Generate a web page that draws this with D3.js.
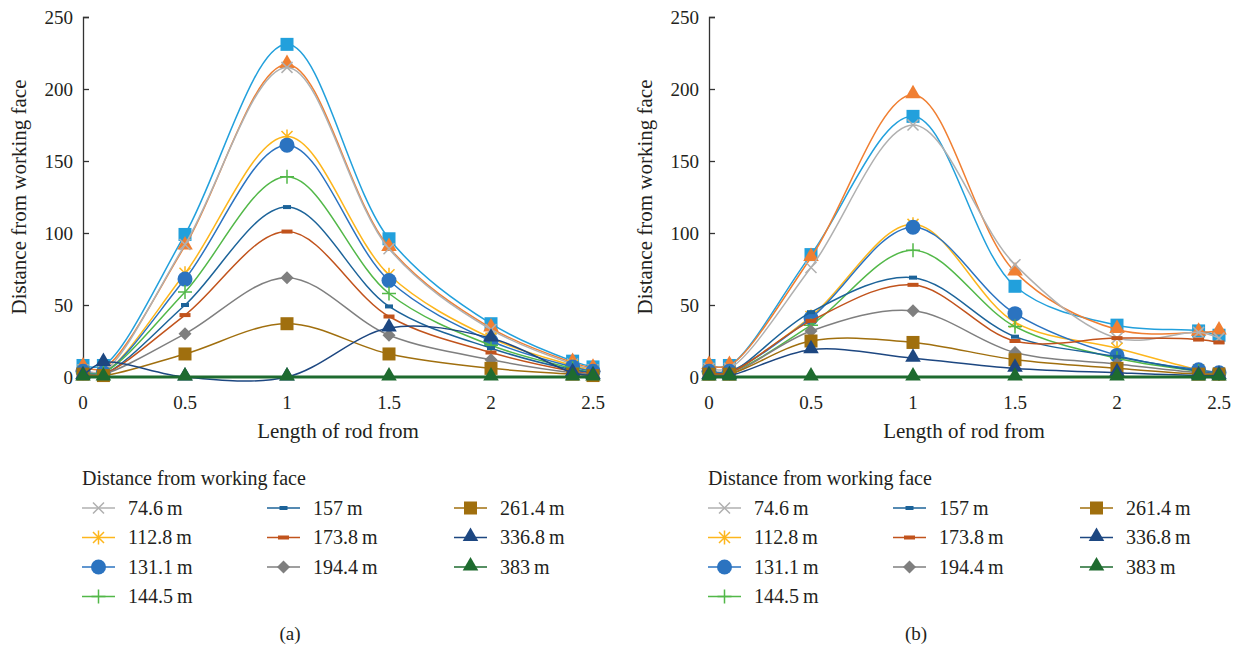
<!DOCTYPE html>
<html>
<head>
<meta charset="utf-8">
<script src="https://cdn.jsdelivr.net/npm/d3@7"></script>
<style>
body { margin: 0; background: #fff; }
</style>
</head>
<body>
<div id="chart"></div>
<script>
// rod positions along the x axis
var rodLengths = [0, 0.1, 0.5, 1, 1.5, 2, 2.4, 2.5];
var xTicks = [0, 0.5, 1, 1.5, 2, 2.5];
var yTicks = [0, 50, 100, 150, 200, 250];

var seriesNames = ["", "", "74.6\u2009m", "112.8\u2009m", "131.1\u2009m", "144.5\u2009m", "157\u2009m", "173.8\u2009m", "194.4\u2009m", "261.4\u2009m", "336.8\u2009m", "383\u2009m"];
var seriesColors = ["#22a0dc", "#f07f32", "#b0b0b0", "#fdb61c", "#2b73c0", "#52b848", "#1c6399", "#c1531c", "#7f7f7f", "#a06f0e", "#1d4781", "#1e6b2f"];
var seriesMarkers = ["square", "triangle", "x", "star", "circle", "plus", "dash", "wdash", "diamond", "square", "triangle", "triangle"];

// panel (a)
var valuesA = [
	[8, 8, 99, 231, 96, 37, 11, 7],
	[7, 6, 91, 217, 90, 34, 10, 6],
	[5, 4, 92, 215, 89, 33, 9, 5],
	[4, 3, 72, 167, 71, 27, 8, 4],
	[4, 3, 68, 161, 67, 25, 7, 4],
	[3, 3, 59, 139, 58, 22, 6, 3],
	[3, 2, 50, 118, 49, 20, 5, 3],
	[2, 2, 43, 101, 42, 17, 4, 2],
	[2, 2, 30, 69, 29, 12, 3, 2],
	[2, 1, 16, 37, 16, 6, 2, 1],
	[1, 10, 0, 0, 34, 27, 3, 1],
	[0, 0, 0, 0, 0, 0, 0, 0]
];
// panel (b)
var valuesB = [
	[8, 8, 85, 181, 63, 36, 32, 29],
	[8, 8, 83, 196, 73, 33, 31, 32],
	[6, 6, 76, 175, 78, 27, 31, 27],
	[4, 4, 42, 106, 38, 20, 5, 3],
	[4, 4, 41, 104, 44, 15, 5, 3],
	[3, 3, 36, 88, 35, 13, 4, 2],
	[3, 3, 45, 69, 28, 14, 4, 2],
	[3, 3, 39, 64, 25, 27, 26, 24],
	[2, 2, 32, 46, 17, 9, 3, 2],
	[2, 2, 25, 24, 12, 6, 2, 2],
	[1, 1, 19, 13, 6, 3, 1, 1],
	[0, 0, 0, 0, 0, 0, 0, 0]
];

// legend layout: which series sits in which column/row
var legendCols = [[2, 3, 4, 5], [6, 7, 8], [9, 10, 11]];

var fontFamily = "'Liberation Serif', 'DejaVu Serif', serif";

var svg = d3.select("#chart")
	.append("svg")
	.attr("width", 1240)
	.attr("height", 650)
	.attr("font-family", fontFamily);

var addText = function(x, y, size, anchor, str) {
	return svg.append("text")
		.attr("x", x)
		.attr("y", y)
		.attr("font-family", fontFamily)
		.attr("font-size", size)
		.attr("fill", "#231f20")
		.attr("text-anchor", anchor)
		.text(str);
}

var drawMarker = function(g, type, color, x, y) {
	if(type == "square") {
		g.append("rect").attr("x", x - 6.5).attr("y", y - 6.5).attr("width", 13).attr("height", 13).attr("fill", color);
	}
	else if(type == "triangle") {
		g.append("path").attr("d", d3.symbol(d3.symbolTriangle, 105)()).attr("transform", "translate(" + x + "," + (y - 1) + ")").attr("fill", color);
	}
	else if(type == "circle") {
		g.append("circle").attr("cx", x).attr("cy", y).attr("r", 7.5).attr("fill", color);
	}
	else if(type == "diamond") {
		g.append("path").attr("d", "M" + x + "," + (y - 6.5) + "L" + (x + 6.5) + "," + y + "L" + x + "," + (y + 6.5) + "L" + (x - 6.5) + "," + y + "Z").attr("fill", color);
	}
	else if(type == "dash") {
		g.append("rect").attr("x", x - 4).attr("y", y - 2).attr("width", 8).attr("height", 4).attr("fill", color);
	}
	else if(type == "wdash") {
		g.append("rect").attr("x", x - 5.5).attr("y", y - 2).attr("width", 11).attr("height", 4).attr("fill", color);
	}
	else {
		var d = "";
		if(type == "x" || type == "star") {
			d += "M" + (x - 5.5) + "," + (y - 5.5) + "L" + (x + 5.5) + "," + (y + 5.5) + "M" + (x - 5.5) + "," + (y + 5.5) + "L" + (x + 5.5) + "," + (y - 5.5);
		}
		if(type == "star") {
			d += "M" + x + "," + (y - 7) + "L" + x + "," + (y + 7);
		}
		if(type == "plus") {
			d += "M" + (x - 7) + "," + y + "L" + (x + 7) + "," + y + "M" + x + "," + (y - 7) + "L" + x + "," + (y + 7);
		}
		g.append("path").attr("d", d).attr("stroke", color).attr("stroke-width", 1.5).attr("fill", "none");
	}
}

var drawPanel = function(values, left, label) {
	var x = d3.scaleLinear().domain([0, 2.5]).range([left, left + 510]);
	var y = d3.scaleLinear().domain([0, 250]).range([377, 17]);

	// y axis with inward ticks
	var yAxis = svg.append("g")
		.attr("transform", "translate(" + left + ",0)")
		.call(d3.axisRight(y).tickValues(yTicks).tickSize(6).tickFormat(""));
	yAxis.select(".domain").attr("stroke", "#333").attr("stroke-width", 1.3);
	yAxis.selectAll(".tick line").attr("stroke", "#333").attr("stroke-width", 1.3);

	yTicks.forEach(function(t) {
		addText(left - 10, y(t) + 6.5, 19, "end", t);
	});
	xTicks.forEach(function(t) {
		addText(x(t), 409, 19, "middle", t);
	});

	svg.append("text")
		.attr("transform", "translate(" + (left - 57) + ",197) rotate(-90)")
		.attr("text-anchor", "middle")
		.attr("font-family", fontFamily)
		.attr("font-size", 21)
		.attr("fill", "#231f20")
		.text("Distance from working face");
	addText(left + 255, 438, 21, "middle", "Length of rod from");

	var line = d3.line()
		.x(function(d, i) { return x(rodLengths[i]); })
		.y(function(d) { return y(d); })
		.curve(d3.curveCatmullRom.alpha(0.5));

	values.forEach(function(vals, s) {
		var g = svg.append("g");
		g.append("path")
			.attr("d", line(vals))
			.attr("fill", "none")
			.attr("stroke", seriesColors[s])
			.attr("stroke-width", s == 11 ? 3 : 1.5);
		vals.forEach(function(v, i) {
			drawMarker(g, seriesMarkers[s], seriesColors[s], x(rodLengths[i]), y(v));
		});
	});

	// legend
	addText(left - 1, 485, 20, "start", "Distance from working face");
	var colX = [0, 185, 372];
	legendCols.forEach(function(col, c) {
		col.forEach(function(s, r) {
			var lx = left - 1 + colX[c];
			var ly = 508 + r * 29.5;
			var g = svg.append("g");
			g.append("line")
				.attr("x1", lx).attr("x2", lx + 33)
				.attr("y1", ly).attr("y2", ly)
				.attr("stroke", seriesColors[s])
				.attr("stroke-width", 1.5);
			drawMarker(g, seriesMarkers[s], seriesColors[s], lx + 16.5, ly);
			addText(lx + 46, ly + 6.5, 20, "start", seriesNames[s]);
		});
	});

	addText(left + 207, 640, 19, "middle", label);
}

drawPanel(valuesA, 83, "(a)");
drawPanel(valuesB, 709, "(b)");
</script>
</body>
</html>
